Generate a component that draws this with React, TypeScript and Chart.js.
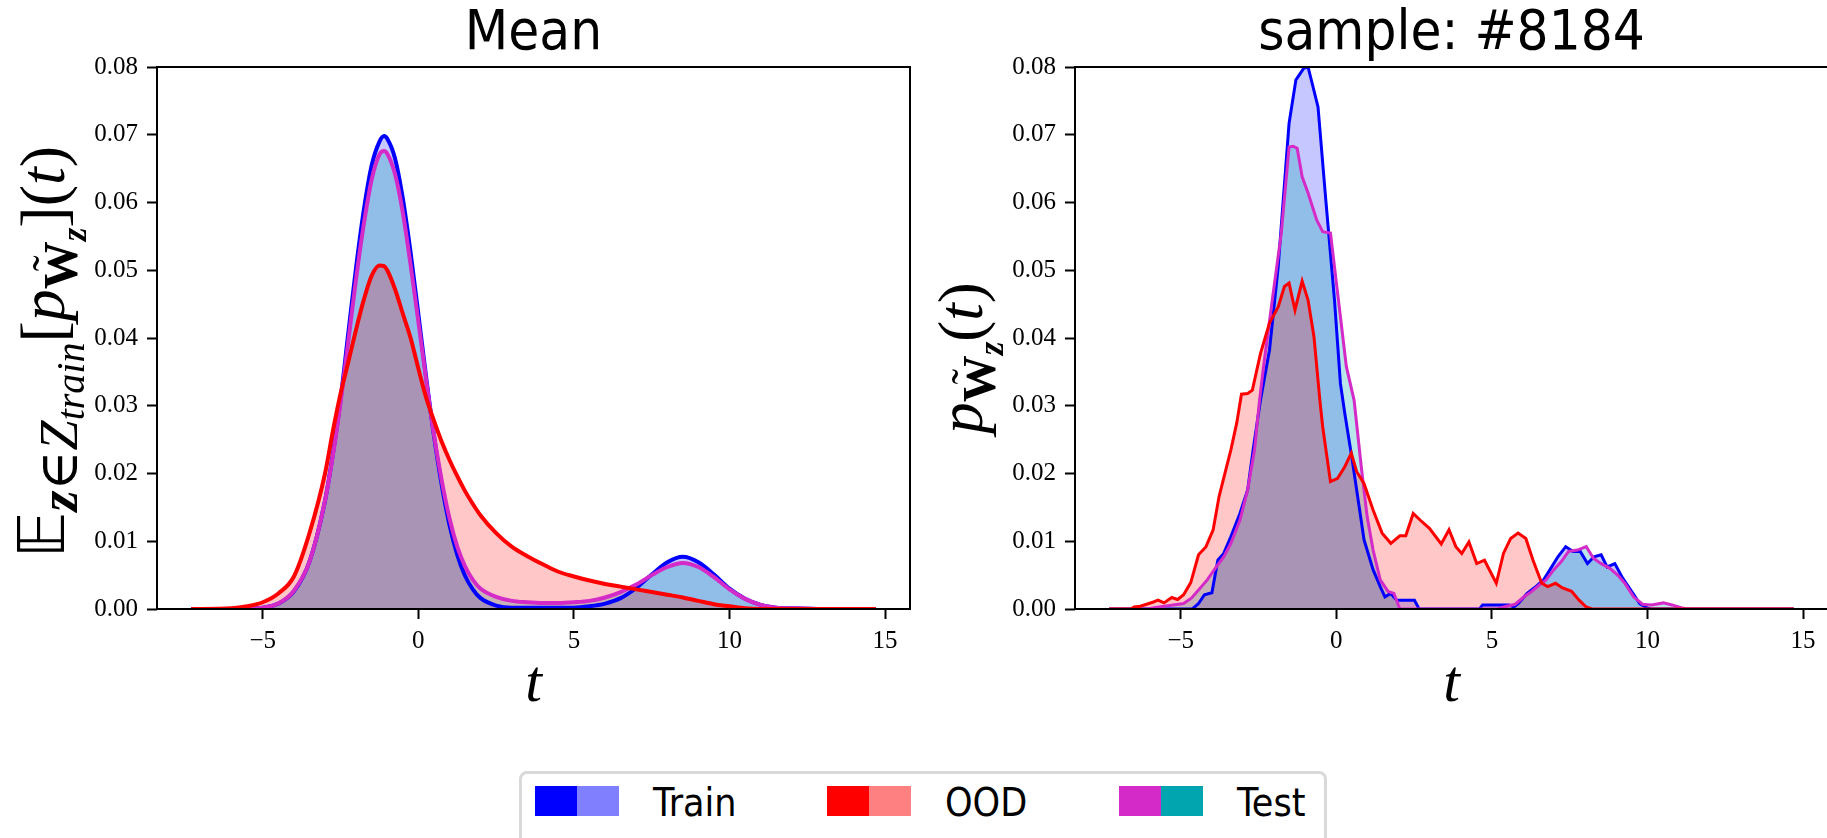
import React, { useEffect, useRef } from 'react';
import { Chart, registerables } from 'chart.js';

Chart.register(...registerables);

const SANS = '"DejaVu Sans Condensed", "DejaVu Sans", sans-serif';
const SERIF = '"Liberation Serif", "DejaVu Serif", serif';

// ---------------- ticks / labels ----------------
const xTicks = [-5, 0, 5, 10, 15];
const yTicks = [0, 0.01, 0.02, 0.03, 0.04, 0.05, 0.06, 0.07, 0.08];
const panelTitles = ['Mean', 'sample: #8184'];
const seriesNames = ['Train', 'OOD', 'Test'];

// ---------------- left panel: mean densities ----------------
const meanT = [-7.3, -6, -5.5, -5, -4.5, -4, -3.5, -3, -2.75, -2.5, -2.25, -2, -1.75, -1.5, -1.25, -1.1, -1, -0.75, -0.5, -0.25, 0, 0.25, 0.5, 0.75, 1, 1.25, 1.5, 1.75, 2, 2.5, 3, 3.5, 4, 4.5, 5, 5.5, 6, 6.5, 7, 7.5, 8, 8.5, 9, 9.5, 10, 10.5, 11, 11.5, 12, 13, 14.7];
const meanTrain = [0, 0, 0.00004, 0.0002, 0.0008, 0.0026, 0.007, 0.016, 0.0228, 0.031, 0.0408, 0.0505, 0.059, 0.0655, 0.069, 0.0698, 0.0694, 0.0665, 0.0606, 0.0526, 0.0435, 0.0342, 0.0256, 0.0183, 0.0124, 0.008, 0.0049, 0.0029, 0.0016, 0.0005, 0.0002, 0.0002, 0.0002, 0.0002, 0.0002, 0.0004, 0.0008, 0.0016, 0.0031, 0.0051, 0.0069, 0.0077, 0.0069, 0.0051, 0.003, 0.0015, 0.0006, 0.0002, 0.0001, 0, 0];
const meanOOD = [0, 0.0001, 0.0004, 0.001, 0.0023, 0.0048, 0.0112, 0.02, 0.0262, 0.0318, 0.0365, 0.0413, 0.0457, 0.0492, 0.0507, 0.0506, 0.05, 0.0472, 0.0436, 0.04, 0.0355, 0.0312, 0.0278, 0.0247, 0.022, 0.0196, 0.0174, 0.0155, 0.0138, 0.0112, 0.0092, 0.0078, 0.0066, 0.0055, 0.0048, 0.0042, 0.0037, 0.0033, 0.0029, 0.0025, 0.0021, 0.0017, 0.0012, 0.0007, 0.0004, 0.0001, 0, 0, 0, 0, 0];
const meanTest = [0, 0, 0.00005, 0.0002, 0.0008, 0.0027, 0.007, 0.016, 0.0226, 0.0305, 0.0396, 0.0488, 0.0569, 0.0634, 0.0671, 0.0676, 0.0672, 0.0642, 0.0585, 0.0508, 0.0424, 0.0338, 0.0258, 0.019, 0.0134, 0.0092, 0.0063, 0.0043, 0.003, 0.0018, 0.0012, 0.001, 0.0009, 0.0009, 0.001, 0.0012, 0.0017, 0.0025, 0.0036, 0.005, 0.0062, 0.0068, 0.0062, 0.0047, 0.0029, 0.0015, 0.0006, 0.0002, 0.0001, 0, 0];

// ---------------- right panel: sample #8184 ----------------
const sampleOODT = [-7.3, -6.6, -6.5, -6.3, -6.1, -5.9, -5.73, -5.54, -5.29, -5.1, -4.91, -4.68, -4.43, -4.19, -3.96, -3.77, -3.54, -3.39, -3.2, -3.05, -2.85, -2.7, -2.44, -2.15, -1.87, -1.67, -1.52, -1.33, -1.1, -0.91, -0.72, -0.53, -0.44, -0.19, 0.04, 0.27, 0.48, 0.65, 0.89, 1.18, 1.47, 1.75, 2.04, 2.23, 2.47, 2.7, 2.99, 3.37, 3.62, 3.84, 4.03, 4.26, 4.51, 4.76, 5.14, 5.37, 5.6, 5.84, 6.09, 6.32, 6.6, 6.79, 7.04, 7.27, 7.56, 7.8, 8.03, 8.22, 14.7];
const sampleOOD = [0, 0, 0.0003, 0.0004, 0.0007, 0.001, 0.0013, 0.0009, 0.0017, 0.0014, 0.0021, 0.0039, 0.008, 0.0092, 0.0117, 0.0166, 0.0208, 0.0235, 0.0275, 0.0317, 0.0318, 0.0323, 0.0377, 0.0422, 0.0446, 0.0476, 0.0481, 0.0441, 0.0484, 0.0456, 0.0402, 0.0308, 0.0269, 0.0188, 0.0193, 0.021, 0.023, 0.0203, 0.0185, 0.0146, 0.0112, 0.0097, 0.0108, 0.0108, 0.0141, 0.0131, 0.0119, 0.0096, 0.0117, 0.0092, 0.0082, 0.0099, 0.0067, 0.0072, 0.0038, 0.0082, 0.0104, 0.0112, 0.0104, 0.0072, 0.0038, 0.0033, 0.0038, 0.0031, 0.0026, 0.0013, 0.0003, 0, 0];
const sampleTrainT = [-7.3, -4.63, -4.43, -4.24, -4.0, -3.81, -3.62, -3.39, -3.1, -2.85, -2.66, -2.44, -2.15, -1.87, -1.52, -1.3, -1.05, -0.91, -0.59, -0.34, -0.06, 0.13, 0.27, 0.51, 0.7, 0.89, 1.18, 1.41, 1.56, 1.75, 1.94, 2.23, 2.51, 2.66, 4.6, 4.7, 5.56, 5.7, 5.84, 6.13, 6.41, 6.66, 6.89, 7.12, 7.37, 7.61, 7.84, 8.07, 8.28, 8.51, 8.7, 8.95, 9.17, 9.46, 9.75, 9.97, 10.1, 14.7];
const sampleTrain = [0, 0, 0.0008, 0.0021, 0.0024, 0.0072, 0.0082, 0.0107, 0.0141, 0.0176, 0.024, 0.0308, 0.0382, 0.0505, 0.0717, 0.0781, 0.0798, 0.08, 0.0741, 0.0604, 0.0456, 0.0333, 0.0289, 0.022, 0.0161, 0.0102, 0.0058, 0.0033, 0.0018, 0.0023, 0.0013, 0.0013, 0.0013, 0, 0, 0.0006, 0.0006, 0.0003, 0.0008, 0.0023, 0.0033, 0.0043, 0.006, 0.0077, 0.0092, 0.0085, 0.0085, 0.0067, 0.0077, 0.008, 0.0062, 0.0067, 0.0048, 0.0028, 0.0008, 0.0002, 0, 0];
const sampleTestT = [-7.3, -6.05, -5.86, -4.91, -4.66, -4.43, -4.15, -3.86, -3.62, -3.39, -3.1, -2.85, -2.63, -2.47, -2.34, -2.06, -1.77, -1.52, -1.39, -1.26, -1.1, -0.91, -0.63, -0.44, -0.19, 0.04, 0.32, 0.57, 0.8, 0.99, 1.18, 1.41, 1.66, 1.85, 2.04, 5.18, 5.37, 5.75, 6.03, 6.28, 6.51, 6.74, 6.99, 7.23, 7.46, 7.75, 8.03, 8.26, 8.51, 8.79, 9.04, 9.27, 9.55, 9.84, 10.13, 10.51, 10.79, 11.08, 11.27, 14.7];
const sampleTest = [0, 0, 0.0002, 0.0008, 0.0016, 0.0028, 0.0043, 0.0062, 0.0077, 0.0097, 0.0131, 0.0176, 0.0235, 0.0308, 0.0358, 0.0456, 0.0555, 0.0682, 0.0683, 0.068, 0.0638, 0.0614, 0.0574, 0.0557, 0.0555, 0.0466, 0.0358, 0.0308, 0.021, 0.0136, 0.0087, 0.0043, 0.0026, 0.0023, 0, 0, 0.0003, 0.0007, 0.0018, 0.0026, 0.0035, 0.0043, 0.0058, 0.007, 0.0085, 0.0087, 0.0092, 0.0075, 0.0067, 0.006, 0.005, 0.0038, 0.0018, 0.0007, 0.0006, 0.0009, 0.0006, 0.0002, 0, 0];

// ---------------- styles ----------------
const LINE: Record<string, string> = { Train: '#0000ff', OOD: '#ff0000', Test: '#d42ac8' };
const FILL: Record<string, string> = { Train: 'rgba(0,0,255,0.22)', OOD: 'rgba(255,0,0,0.22)', Test: 'rgba(0,165,176,0.28)' };
const SWATCH: Record<string, [string, string]> = {
  Train: ['#0000ff', '#8080ff'],
  OOD: ['#ff0000', '#ff8080'],
  Test: ['#d42ac8', '#00a5b0'],
};

type Run = { t: string; s: number; style: string; weight: string; shift: number; family: string; tilde: boolean };
const run = (t: string, s: number, style = 'normal', weight = 'normal', shift = 0, family = SERIF, tilde = false): Run => ({ t, s, style, weight, shift, family, tilde });

const leftLabelRuns: Run[] = [
  run('𝔼', 1, 'normal', 'normal', 0, '"DejaVu Sans", "DejaVu Serif", sans-serif'),
  run('z', 0.85, 'italic', 'bold', 0.2),
  run('∈', 0.85, 'normal', 'normal', 0.2, '"DejaVu Serif", serif'),
  run('Z', 0.85, 'italic', 'normal', 0.2),
  run('train', 0.62, 'italic', 'normal', 0.32),
  run('[', 1),
  run('p', 1, 'italic'),
  run('W', 0.75, 'normal', 'bold', 0.2, SERIF, true),
  run('z', 0.55, 'italic', 'bold', 0.34),
  run(']', 1),
  run('(', 1),
  run('t', 1, 'italic'),
  run(')', 1),
];
const rightLabelRuns: Run[] = [
  run('p', 1, 'italic'),
  run('W', 0.75, 'normal', 'bold', 0.2, SERIF, true),
  run('z', 0.55, 'italic', 'bold', 0.34),
  run('(', 1),
  run('t', 1, 'italic'),
  run(')', 1),
];

// ---------------- plugins ----------------
const spinesPlugin = {
  id: 'spines',
  afterDraw(chart: any) {
    const { ctx, chartArea: a } = chart;
    ctx.save();
    ctx.strokeStyle = '#000';
    ctx.lineWidth = 2;
    ctx.strokeRect(a.left, a.top, a.right - a.left, a.bottom - a.top);
    ctx.restore();
  },
};

function makeMathLabel(runs: Run[], size: number, x: number, y: number) {
  return {
    id: 'mathLabel',
    afterDraw(chart: any) {
      const ctx = chart.ctx;
      const F = size;
      const fontOf = (r: Run) => `${r.style} ${r.weight} ${Math.round(r.s * F)}px ${r.family}`;
      ctx.save();
      ctx.translate(x, y);
      ctx.rotate(-Math.PI / 2);
      ctx.fillStyle = '#000';
      ctx.textBaseline = 'alphabetic';
      ctx.textAlign = 'left';
      const widths = runs.map((r) => {
        ctx.font = fontOf(r);
        return ctx.measureText(r.t).width;
      });
      const total = widths.reduce((a, b) => a + b, 0);
      let cx = -total / 2;
      runs.forEach((r, i) => {
        ctx.font = fontOf(r);
        const dy = r.shift * F;
        ctx.fillText(r.t, cx, dy);
        if (r.tilde) {
          ctx.font = `normal normal ${Math.round(r.s * F)}px ${SERIF}`;
          const tw = ctx.measureText('\u02DC').width;
          ctx.fillText('\u02DC', cx + (widths[i] - tw) / 2 + 2, dy - 0.22 * r.s * F);
        }
        cx += widths[i];
      });
      ctx.restore();
    },
  };
}

const pts = (xs: number[], ys: number[]) => xs.map((x, i) => ({ x, y: ys[i] }));

function makeConfig(title: string, sets: { name: string; xs: number[]; ys: number[] }[], smooth: boolean, lineW: number, labelPlugin: any, padRight: number) {
  return {
    type: 'line',
    data: {
      datasets: sets.map((s) => ({
        label: s.name,
        data: pts(s.xs, s.ys),
        borderColor: LINE[s.name],
        backgroundColor: FILL[s.name],
        borderWidth: lineW,
        pointRadius: 0,
        fill: 'origin',
        tension: smooth ? 0.4 : 0,
        cubicInterpolationMode: smooth ? 'monotone' : 'default',
      })),
    },
    options: {
      responsive: false,
      animation: false,
      events: [],
      layout: { padding: { left: 0, right: padRight, top: 0, bottom: 0 } },
      plugins: {
        legend: { display: false },
        tooltip: { enabled: false },
        filler: { drawTime: 'beforeDatasetsDraw' },
        title: {
          display: true,
          text: title,
          fullSize: false,
          color: '#000',
          font: { family: SANS, size: 56, weight: 'normal', lineHeight: 1 },
          padding: { top: 6, bottom: 5 },
        },
      },
      scales: {
        x: {
          type: 'linear',
          min: -8.4,
          max: 15.8,
          afterBuildTicks: (s: any) => {
            s.ticks = xTicks.map((v) => ({ value: v }));
          },
          afterFit: (s: any) => {
            s.height = 111;
          },
          ticks: {
            autoSkip: false,
            maxRotation: 0,
            color: '#000',
            padding: 7,
            font: { family: SERIF, size: 25 },
            callback: (v: number) => (v < 0 ? '\u2212' + Math.abs(v) : String(v)),
          },
          grid: { drawOnChartArea: false, drawTicks: true, tickLength: 10, tickWidth: 2, tickColor: '#000', color: '#000' },
          border: { display: false },
          title: {
            display: true,
            text: 't',
            color: '#000',
            font: { family: SERIF, size: 60, style: 'italic', lineHeight: 1 },
            padding: { top: 0, bottom: 5 },
          },
        },
        y: {
          type: 'linear',
          min: 0,
          max: 0.08,
          afterBuildTicks: (s: any) => {
            s.ticks = yTicks.map((v) => ({ value: v }));
          },
          afterFit: (s: any) => {
            s.width = 157;
          },
          ticks: {
            color: '#000',
            padding: 9,
            font: { family: SERIF, size: 25 },
            callback: (v: number) => v.toFixed(2),
          },
          grid: { drawOnChartArea: false, drawTicks: true, tickLength: 10, tickWidth: 2, tickColor: '#000', color: '#000' },
          border: { display: false },
        },
      },
    },
    plugins: [spinesPlugin, labelPlugin],
  };
}

function Panel(props: { left: number; width: number; config: any }) {
  const ref = useRef<HTMLCanvasElement | null>(null);
  useEffect(() => {
    if (!ref.current) return;
    const chart = new Chart(ref.current, props.config);
    return () => chart.destroy();
  }, []);
  return (
    <canvas
      ref={ref}
      width={props.width}
      height={720}
      style={{ position: 'absolute', left: props.left, top: 0, width: props.width, height: 720 }}
    />
  );
}

const leftConfig = makeConfig(
  panelTitles[0],
  [
    { name: 'OOD', xs: meanT, ys: meanOOD },
    { name: 'Test', xs: meanT, ys: meanTest },
    { name: 'Train', xs: meanT, ys: meanTrain },
  ],
  true,
  4,
  makeMathLabel(leftLabelRuns, 64, 64, 352),
  20
);

const rightConfig = makeConfig(
  panelTitles[1],
  [
    { name: 'OOD', xs: sampleOODT, ys: sampleOOD },
    { name: 'Test', xs: sampleTestT, ys: sampleTest },
    { name: 'Train', xs: sampleTrainT, ys: sampleTrain },
  ],
  false,
  3,
  makeMathLabel(rightLabelRuns, 63, 64, 358),
  1
);

const legendLefts = [13, 305, 597];

export default function App() {
  return (
    <div style={{ position: 'absolute', left: 0, top: 0, width: 1827, height: 838, overflow: 'hidden', background: '#fff' }}>
      <Panel left={0} width={930} config={leftConfig} />
      <Panel left={918} width={911} config={rightConfig} />
      <div
        style={{
          position: 'absolute',
          left: 519,
          top: 771,
          width: 808,
          height: 100,
          boxSizing: 'border-box',
          border: '3px solid #d9d9d9',
          borderRadius: 8,
          background: '#fff',
        }}
      >
        {seriesNames.map((n, i) => (
          <React.Fragment key={n}>
            <div style={{ position: 'absolute', left: legendLefts[i], top: 12, width: 42, height: 30, background: SWATCH[n][0] }} />
            <div style={{ position: 'absolute', left: legendLefts[i] + 42, top: 12, width: 42, height: 30, background: SWATCH[n][1] }} />
            <div
              style={{
                position: 'absolute',
                left: legendLefts[i] + 118,
                top: 9,
                fontFamily: SANS,
                fontSize: 39,
                lineHeight: '39px',
                color: '#000',
                whiteSpace: 'nowrap',
              }}
            >
              {n}
            </div>
          </React.Fragment>
        ))}
      </div>
    </div>
  );
}
